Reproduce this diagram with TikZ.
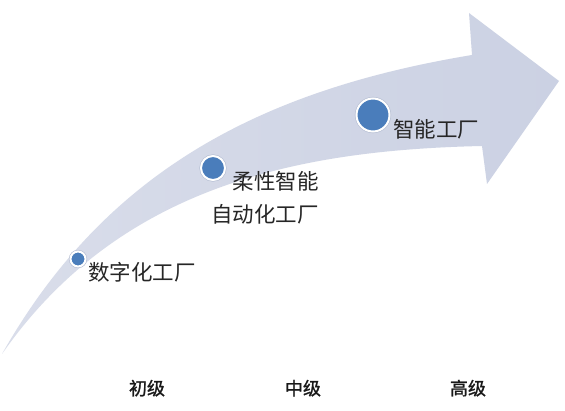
\documentclass[tikz,border=0pt]{standalone}
\usepackage{fontspec}
\newfontfamily\cjk{Noto Sans CJK SC}
\newfontfamily\cjkstage{Noto Sans CJK SC}[FakeBold=1.2]
\definecolor{bandL}{HTML}{D9DDEA}
\definecolor{bandR}{HTML}{CBD1E3}
\definecolor{dotblue}{HTML}{4A7DBB}
\definecolor{halo}{HTML}{B4BDD2}
\begin{document}
\begin{tikzpicture}[x=1pt,y=-1pt,
  dot/.style={circle, fill=dotblue, draw=white, line width=2pt, inner sep=0pt,
              preaction={draw=halo, line width=3.2pt}},
  lab/.style={font=\cjk\fontsize{21.5}{25}\selectfont, inner sep=0pt, text=black!85},
  stage/.style={font=\cjkstage\fontsize{18}{22}\selectfont, inner sep=0pt, text=black!90, anchor=base}]
\useasboundingbox (0,0) rectangle (565,411);
\fill[white] (0,0) rectangle (565,411);
% curved arrow
\coordinate (tail) at (2,354);
\coordinate (hu) at (472,55);
\coordinate (ht) at (469,13);
\coordinate (tip) at (559,81);
\coordinate (hb) at (487,184);
\coordinate (hl) at (482,146);
\shade[left color=bandL, right color=bandR, shading angle=90]
  (tail) .. controls (105,172) and (260,90) .. (hu)
  -- (ht) -- (tip) -- (hb) -- (hl)
  .. controls (300,150) and (120,185) .. (tail) -- cycle;
% dots
\node[dot, minimum size=15pt] (c1) at (78,259) {};
\node[dot, minimum size=24pt] (c2) at (213,168) {};
\node[dot, minimum size=33pt] (c3) at (373,115) {};
% labels
\node[lab, anchor=base west] (l1) at (88,281) {数字化工厂};
\node[lab, anchor=base east] (l2a) at (319,190) {柔性智能};
\node[lab, anchor=base east] (l2b) at (319,223) {自动化工厂};
\node[lab, anchor=base west] (l3) at (393,138) {智能工厂};
% stages
\node[stage] (s1) at (147,395) {初级};
\node[stage] (s2) at (303,395) {中级};
\node[stage] (s3) at (468,395) {高级};
\end{tikzpicture}
\end{document}
